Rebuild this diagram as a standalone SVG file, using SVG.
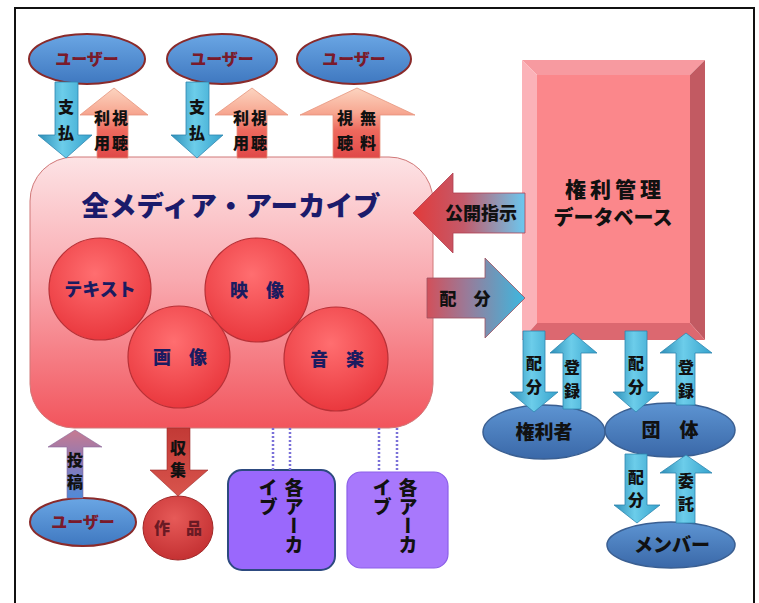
<svg xmlns="http://www.w3.org/2000/svg" width="759" height="603" viewBox="0 0 759 603">
<defs>
<linearGradient id="gBox" x1="0" y1="0" x2="0" y2="1">
<stop offset="0" stop-color="#fde3e5"/><stop offset="0.45" stop-color="#f9aab0"/><stop offset="1" stop-color="#f2545c"/>
</linearGradient>
<radialGradient id="gCircle" cx="0.45" cy="0.35" r="0.7">
<stop offset="0" stop-color="#ff6e70"/><stop offset="1" stop-color="#e8343a"/>
</radialGradient>
<radialGradient id="gWork" cx="0.45" cy="0.35" r="0.7">
<stop offset="0" stop-color="#e65a58"/><stop offset="1" stop-color="#c22e30"/>
</radialGradient>
<linearGradient id="gUser" x1="0" y1="0" x2="0" y2="1">
<stop offset="0" stop-color="#6aa6e4"/><stop offset="1" stop-color="#3f78c0"/>
</linearGradient>
<linearGradient id="gEll" x1="0" y1="0" x2="0" y2="1">
<stop offset="0" stop-color="#5d94d2"/><stop offset="1" stop-color="#3a68a8"/>
</linearGradient>
<linearGradient id="gBlue" x1="0" y1="0" x2="1" y2="0">
<stop offset="0" stop-color="#2d8fb8"/><stop offset="0.45" stop-color="#6ccdea"/><stop offset="1" stop-color="#35a2cc"/>
</linearGradient>
<linearGradient id="gPeach" x1="0" y1="0" x2="0" y2="1">
<stop offset="0" stop-color="#fcd4c0"/><stop offset="0.35" stop-color="#f7a892"/><stop offset="0.6" stop-color="#ee6a5e"/><stop offset="1" stop-color="#e04848"/>
</linearGradient>
<linearGradient id="gPost" x1="0" y1="0" x2="0" y2="1">
<stop offset="0" stop-color="#c77a90"/><stop offset="0.5" stop-color="#8a7ab8"/><stop offset="1" stop-color="#4f8ad8"/>
</linearGradient>
<linearGradient id="gCollect" x1="0" y1="0" x2="0" y2="1">
<stop offset="0" stop-color="#c23a36"/><stop offset="1" stop-color="#d8544c"/>
</linearGradient>
<linearGradient id="gPublish" x1="0" y1="0" x2="1" y2="0">
<stop offset="0" stop-color="#e23a3a"/><stop offset="0.45" stop-color="#c45a6a"/><stop offset="1" stop-color="#6ac8f0"/>
</linearGradient>
<linearGradient id="gDist" x1="0" y1="0" x2="1" y2="0">
<stop offset="0" stop-color="#d2505a"/><stop offset="0.4" stop-color="#9a7a98"/><stop offset="1" stop-color="#3cb8e0"/>
</linearGradient>
</defs>
<style>
text { font-family: "Noto Sans CJK JP", "Noto Sans CJK SC", sans-serif; font-weight: 900; text-anchor: middle; }
.lbl { font-size: 16px; fill: #111; }
.user { fill: url(#gUser); stroke: #8a2a2a; stroke-width: 2; }
.usert { font-size: 16px; fill: #7a1a2a; }
.ell { fill: url(#gEll); stroke: #3a5f92; stroke-width: 1.5; }
.ellt { font-size: 19px; fill: #111; }
.circ { fill: url(#gCircle); stroke: #b83036; stroke-width: 1.2; }
.circt { font-size: 18px; fill: #1b1b60; }
.blue { fill: url(#gBlue); stroke: #2f86b0; stroke-width: 0.8; }
.peach { fill: url(#gPeach); stroke: #e6957e; stroke-width: 0.8; }
.vt { writing-mode: vertical-rl; font-size: 19px; fill: #111; text-anchor: start; }
.dot { stroke: #7a70d8; stroke-width: 2.5; stroke-dasharray: 2 2; fill: none; }
</style>

<rect x="15" y="8" width="739" height="610" fill="#fff" stroke="#111" stroke-width="2"/>

<g id="archive">
<rect x="30" y="157" width="403" height="271" rx="44" fill="url(#gBox)" stroke="#d07878" stroke-width="1"/>
<text x="231" y="216" font-size="27.5" fill="#1b1b6b">全メディア・アーカイブ</text>
</g>
<g id="text-circle"><circle cx="100" cy="289" r="51" class="circ"/><text x="100" y="296" class="circt" font-size="17">テキスト</text></g>
<g id="video-circle"><circle cx="257" cy="290" r="52" class="circ"/><text x="257" y="297" class="circt">映　像</text></g>
<g id="image-circle"><circle cx="179" cy="357" r="51" class="circ"/><text x="180" y="364" class="circt">画　像</text></g>
<g id="music-circle"><circle cx="336" cy="359" r="52" class="circ"/><text x="337" y="366" class="circt">音　楽</text></g>

<g id="rights-db">
<rect x="537" y="75" width="153" height="248" fill="#fb878b"/>
<polygon points="522,60 705,60 690,75 537,75" fill="#f79aa0"/>
<polygon points="522,60 537,75 537,323 522,340" fill="#fbb2b8"/>
<polygon points="705,60 705,340 690,323 690,75" fill="#c25a62"/>
<polygon points="522,340 705,340 690,323 537,323" fill="#dc6870"/>
<text x="615" y="197" font-size="21" letter-spacing="4" fill="#111">権利管理</text>
<text x="613" y="225" font-size="20" fill="#111">データベース</text>
</g>

<g id="user1"><ellipse cx="87" cy="59" rx="58" ry="25" class="user"/><text x="87" y="65" class="usert">ユーザー</text></g>
<g id="user2"><ellipse cx="222" cy="59" rx="55" ry="25" class="user"/><text x="222" y="65" class="usert">ユーザー</text></g>
<g id="user3"><ellipse cx="354" cy="59" rx="57" ry="25" class="user"/><text x="354" y="65" class="usert">ユーザー</text></g>
<g id="user4"><ellipse cx="83" cy="522" rx="53" ry="24" class="user"/><text x="83" y="528" class="usert" font-size="15">ユーザー</text></g>
<g id="work"><ellipse cx="178" cy="528" rx="35" ry="32" fill="url(#gWork)" stroke="#a02828" stroke-width="1"/><text x="178" y="534" font-size="16" fill="#6a1a24">作　品</text></g>

<g id="archive1">
<rect x="228" y="470" width="107" height="100" rx="14" fill="#9a68fc" stroke="#2d4a80" stroke-width="2"/>
<text x="294" y="478" class="vt">各アーカ</text>
<text x="268" y="478" class="vt">イブ</text>
</g>
<g id="archive2">
<rect x="347" y="472" width="101" height="96" rx="14" fill="#a878fc" stroke="#8c60e8" stroke-width="1.2"/>
<text x="408" y="478" class="vt">各アーカ</text>
<text x="382" y="478" class="vt">イブ</text>
</g>

<g id="rights-holder"><ellipse cx="544" cy="432" rx="61" ry="27" class="ell"/><text x="544" y="439" class="ellt">権利者</text></g>
<g id="group-org"><ellipse cx="670" cy="430" rx="65" ry="27" class="ell"/><text x="670" y="437" class="ellt" font-size="18">団　体</text></g>
<g id="member"><ellipse cx="671" cy="545" rx="64" ry="23" class="ell"/><text x="672" y="552" class="ellt" font-size="18">メンバー</text></g>

<g id="connectors">
<g id="pay1"><path d="M55,82 H78 V135 H92 L66,158 L38,135 H55 Z" class="blue"/>
<text class="lbl"><tspan x="66" y="113">支</tspan><tspan x="66" y="139">払</tspan></text></g>
<g id="view1"><path d="M114,88 L148,115 H128 V158 H97 V115 H80 Z" class="peach"/>
<text class="lbl"><tspan x="120" y="124">視</tspan><tspan x="120" y="149">聴</tspan><tspan x="102" y="124">利</tspan><tspan x="102" y="149">用</tspan></text></g>
<g id="pay2"><path d="M186,82 H209 V135 H223 L197,158 L171,135 H186 Z" class="blue"/>
<text class="lbl"><tspan x="197" y="113">支</tspan><tspan x="197" y="139">払</tspan></text></g>
<g id="view2"><path d="M252,88 L288,115 H267 V158 H237 V115 H215 Z" class="peach"/>
<text class="lbl"><tspan x="259" y="124">視</tspan><tspan x="259" y="149">聴</tspan><tspan x="241" y="124">利</tspan><tspan x="241" y="149">用</tspan></text></g>
<g id="free-view"><path d="M357,88 L415,115 H380 V158 H333 V115 H300 Z" class="peach"/>
<text class="lbl"><tspan x="368" y="124">無</tspan><tspan x="368" y="149">料</tspan><tspan x="345" y="124">視</tspan><tspan x="345" y="149">聴</tspan></text></g>

<g id="publish"><path d="M413,213 L453,173 V193 H525 V233 H453 V253 Z" fill="url(#gPublish)" stroke="#b04050" stroke-width="0.8"/>
<text x="481" y="220" font-size="18" fill="#111">公開指示</text></g>
<g id="distribute"><path d="M427,278 H485 V258 L525,298 L485,338 V318 H427 Z" fill="url(#gDist)" stroke="#a05060" stroke-width="0.8"/>
<text x="465" y="305" font-size="17" fill="#111">配　分</text></g>

<g id="post"><path d="M75,430 L102,447 H83 V498 H67 V447 H48 Z" fill="url(#gPost)" stroke="#8a6a9a" stroke-width="0.6"/>
<text class="lbl" font-size="15"><tspan x="75" y="466">投</tspan><tspan x="75" y="488">稿</tspan></text></g>
<g id="collect"><path d="M167,428 H190 V470 H208 L178,496 L150,470 H167 Z" fill="url(#gCollect)" stroke="#9a2a2a" stroke-width="0.6"/>
<text class="lbl" font-size="15"><tspan x="178" y="454">収</tspan><tspan x="178" y="476">集</tspan></text></g>

<line x1="273" y1="428" x2="273" y2="470" class="dot"/>
<line x1="290" y1="428" x2="290" y2="470" class="dot"/>
<line x1="379" y1="428" x2="379" y2="472" class="dot"/>
<line x1="397" y1="428" x2="397" y2="472" class="dot"/>

<g id="dist-holder"><path d="M523,331 H545 V392 H558 L534,412 L510,392 H523 Z" class="blue"/>
<text class="lbl"><tspan x="534" y="369">配</tspan><tspan x="534" y="393">分</tspan></text></g>
<g id="reg-holder"><path d="M573,333 L597,353 H581 V409 H563 V353 H550 Z" class="blue"/>
<text class="lbl"><tspan x="572" y="373">登</tspan><tspan x="572" y="397">録</tspan></text></g>
<g id="dist-org"><path d="M625,331 H647 V392 H659 L636,412 L613,392 H625 Z" class="blue"/>
<text class="lbl"><tspan x="636" y="369">配</tspan><tspan x="636" y="393">分</tspan></text></g>
<g id="reg-org"><path d="M686,333 L712,353 H695 V405 H676 V353 H660 Z" class="blue"/>
<text class="lbl"><tspan x="686" y="373">登</tspan><tspan x="686" y="397">録</tspan></text></g>
<g id="dist-member"><path d="M625,454 H647 V505 H660 L637,523 L614,505 H625 Z" class="blue"/>
<text class="lbl" font-size="15.5"><tspan x="636" y="483">配</tspan><tspan x="636" y="506">分</tspan></text></g>
<g id="entrust"><path d="M686,455 L712,473 H695 V523 H676 V473 H660 Z" class="blue"/>
<text class="lbl" font-size="15.5"><tspan x="686" y="487">委</tspan><tspan x="686" y="510">託</tspan></text></g>
</g>
</svg>
